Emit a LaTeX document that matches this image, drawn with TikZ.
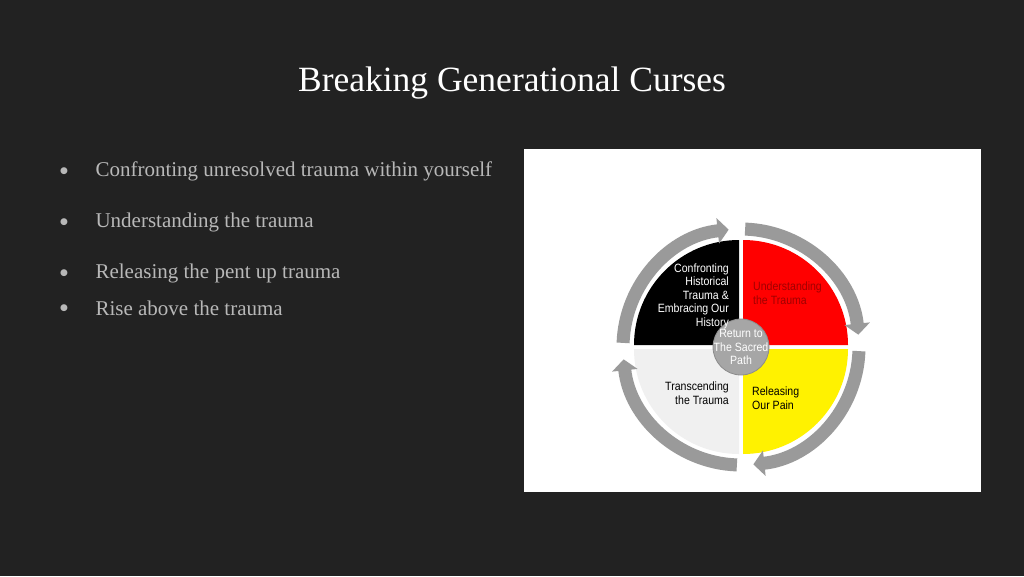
\documentclass[tikz,border=0pt]{standalone}
\usepackage{fontspec}
\setmainfont{Liberation Serif}
\setsansfont{Liberation Sans}
\newfontfamily\symfont{DejaVu Sans}
\usetikzlibrary{arrows.meta}
\definecolor{slidebg}{HTML}{222222}
\definecolor{bullettext}{HTML}{B8B8B8}
\definecolor{ringgray}{HTML}{9A9A9A}
\definecolor{darkred}{HTML}{A00000}
\begin{document}
\begin{tikzpicture}[x=1pt,y=-1pt,
    bullet/.style={anchor=west, text=bullettext, font=\fontsize{21}{24}\selectfont},
    dot/.style={text=bullettext, font=\symfont\fontsize{9}{10}\selectfont},
    label/.style={font=\sffamily\fontsize{12}{13.5}\selectfont, inner sep=0pt, xscale=0.88},
    ring/.style={line width=13pt, ringgray, -{Triangle[length=11pt,width=25pt]}},
]
\useasboundingbox (0,0) rectangle (1024,576);
\fill[slidebg] (0,0) rectangle (1024,576);
\node[text=white, font=\fontsize{35.5}{40}\selectfont] (title) at (512,83) {Breaking Generational Curses};
% bullet list
\foreach \y/\t [count=\i] in {171/Confronting unresolved trauma within yourself,
    222/Understanding the trauma, 273/Releasing the pent up trauma, 308/Rise above the trauma} {
  \node[dot] (d\i) at (64,\y) {●};
  \node[bullet] (b\i) at (92,\y) {\t};
}
% picture panel
\fill[white] (524,149) rectangle (981,492);
\begin{scope}[shift={(741,347)}, yscale=-1]
  \fill[black,  shift={(-2,2)}]  (0,0) -- (180:105) arc(180:90:105) -- cycle;
  \fill[red,    shift={(2,2)}]   (0,0) -- (90:105) arc(90:0:105) -- cycle;
  \fill[yellow, shift={(2,-2)}]  (0,0) -- (0:105) arc(0:-90:105) -- cycle;
  \fill[gray!12,shift={(-2,-2)}] (0,0) -- (-90:105) arc(-90:-180:105) -- cycle;
  \draw[ring] (178:118) arc(178:96:118);
  \draw[ring] (88:118) arc(88:6:118);
  \draw[ring] (-2:118) arc(-2:-84:118);
  \draw[ring] (-92:118) arc(-92:-174:118);
  \node[circle, minimum size=56pt, fill=gray!70, draw=gray!90, thick] (hub) at (0,0) {};
\end{scope}
\node[label, align=center, text=white] (hubtext) at (hub) {Return to\\The Sacred\\Path};
\node[label, align=right, text=white, anchor=east] (confront) at (729,296) {Confronting\\Historical\\Trauma \&\\Embracing Our\\History};
\node[label, align=left, text=darkred, anchor=west] (understand) at (753,293) {Understanding\\the Trauma};
\node[label, align=left, text=black, anchor=west] (release) at (752,398) {Releasing\\Our Pain};
\node[label, align=right, text=black, anchor=east] (transcend) at (729,393) {Transcending\\the Trauma};
\end{tikzpicture}
\end{document}
